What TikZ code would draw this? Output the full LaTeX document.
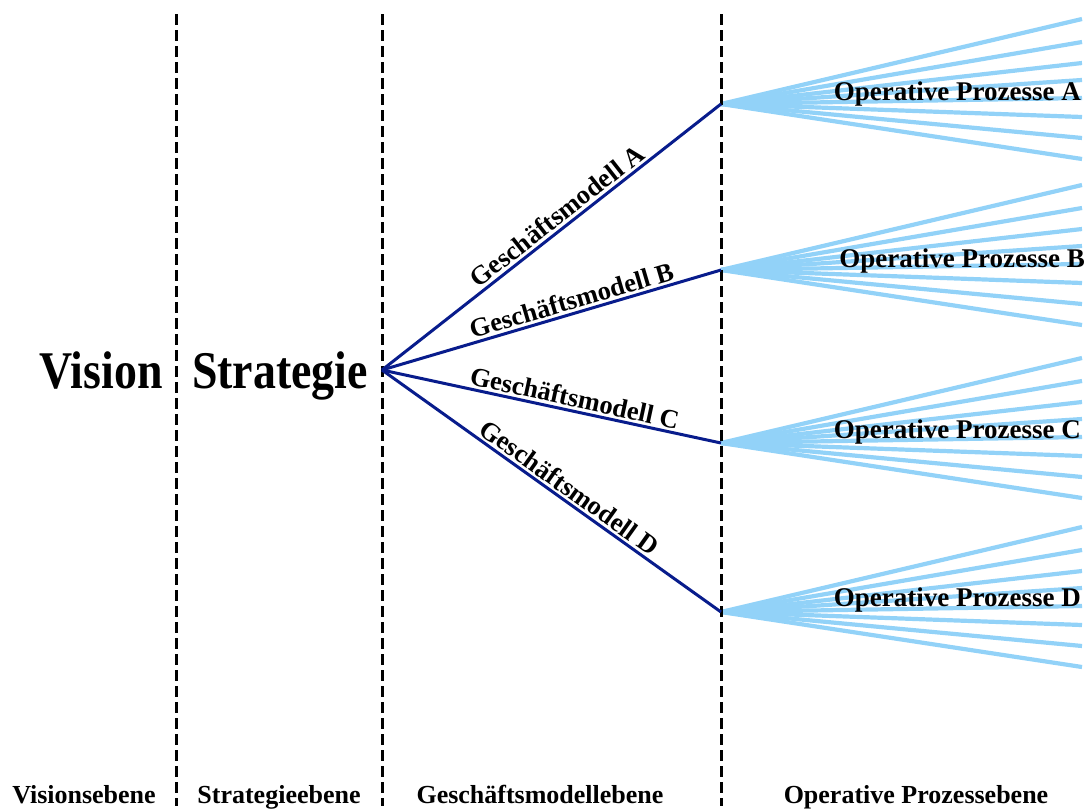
\documentclass[tikz,border=0pt]{standalone}
\usepackage{fontspec}
\setmainfont{Liberation Serif}
\definecolor{navy}{RGB}{8,28,140}
\definecolor{sky}{RGB}{146,210,248}
\begin{document}
\begin{tikzpicture}[x=1pt,y=-1pt,
  sep/.style={line width=3pt, dash pattern=on 11pt off 5pt},
  model/.style={navy, line width=3pt},
  fan/.style={sky, line width=4.2pt},
  modlabel/.style={text=black, font=\bfseries\fontsize{26.5}{29}\selectfont, sloped, above, inner sep=2.5pt},
  oplabel/.style={font=\bfseries\fontsize{27}{30}\selectfont, anchor=base east, inner sep=0pt},
  level/.style={font=\bfseries\fontsize{26}{28}\selectfont, anchor=base, inner sep=0pt},
  big/.style={font=\bfseries\fontsize{53}{60}\selectfont, anchor=base, inner sep=0pt}
]
\useasboundingbox (0,0) rectangle (1090,809);
% fans
\foreach \n/\y in {a/104,b/270,c/443,d/612}{
  \coordinate (g\n) at (721,\y);
  \foreach \o [count=\i] in {-85,-62,-41,-24,-6,13,34,55}{
    \coordinate (g\n e\i) at (1082,\y+\o);
    \draw[fan] (g\n) -- (g\n e\i);
  }
}
% separators
\foreach \n/\x in {1/176,2/382,3/721}{
  \coordinate (s\n t) at (\x,14);
  \coordinate (s\n b) at (\x,806);
  \draw[sep] (s\n t) -- (s\n b);
}
% business models
\coordinate (hub) at (382,370);
\draw[model] (hub) -- node[modlabel, pos=0.54] (lA) {Geschäftsmodell A} (ga);
\draw[model] (hub) -- node[modlabel, pos=0.57] (lB) {Geschäftsmodell B} (gb);
\draw[model] (hub) -- node[modlabel, pos=0.56] (lC) {Geschäftsmodell C} (gc);
\draw[model] (hub) -- node[modlabel, pos=0.53] (lD) {Geschäftsmodell D} (gd);
% operative labels
\node[oplabel] (opA) at (1081,100) {Operative Prozesse A};
\node[oplabel] (opB) at (1085,267) {Operative Prozesse B};
\node[oplabel] (opC) at (1081,438) {Operative Prozesse C};
\node[oplabel] (opD) at (1081,606) {Operative Prozesse D};
% big words
\node[big] (vision) at (101,388) {\scalebox{0.865}[1]{Vision}};
\node[big] (strategie) at (280,388) {\scalebox{0.865}[1]{Strategie}};
% level labels
\node[level] (l1) at (84,803) {Visionsebene};
\node[level] (l2) at (279,803) {Strategieebene};
\node[level] (l3) at (540,803) {Geschäftsmodellebene};
\node[level] (l4) at (916,803) {Operative Prozessebene};
\end{tikzpicture}
\end{document}
